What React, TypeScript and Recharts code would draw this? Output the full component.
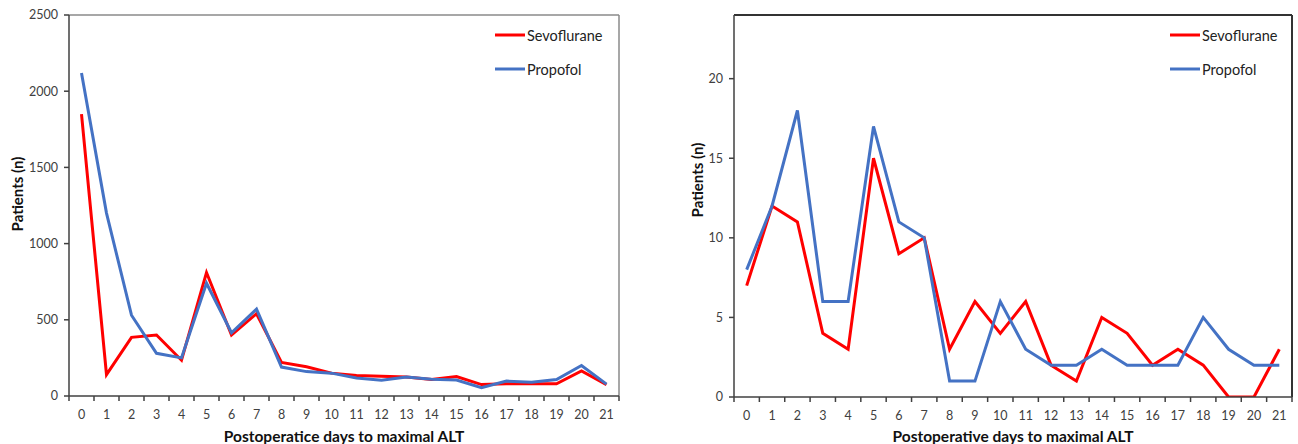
import { LineChart, Line, XAxis, YAxis, ReferenceLine, Legend } from "recharts";

// postoperative day of maximal ALT
const days = [0, 1, 2, 3, 4, 5, 6, 7, 8, 9, 10, 11, 12, 13, 14, 15, 16, 17, 18, 19, 20, 21];
const seriesOrder = ["Sevoflurane", "Propofol"];

// left panel: all patients
const sevoAll = [1850, 140, 385, 400, 235, 810, 400, 540, 220, 192, 150, 135, 130, 125, 108, 128, 75, 80, 80, 80, 165, 75];
const propAll = [2120, 1200, 530, 280, 250, 740, 415, 570, 190, 160, 150, 118, 103, 125, 110, 105, 55, 98, 90, 108, 200, 78];
const yTicksAll = [0, 500, 1000, 1500, 2000, 2500];

// right panel
const sevoLow = [7, 12, 11, 4, 3, 15, 9, 10, 3, 6, 4, 6, 2, 1, 5, 4, 2, 3, 2, 0, 0, 3];
const propLow = [8, 12, 18, 6, 6, 17, 11, 10, 1, 1, 6, 3, 2, 2, 3, 2, 2, 2, 5, 3, 2, 2];
const yTicksLow = [0, 5, 10, 15, 20];

const FONT = "Lato, 'Open Sans', sans-serif";
const AXIS = "#404040";

function LegendBox({ payload }: any) {
  const items = [...(payload || [])].sort(
    (a: any, b: any) => seriesOrder.indexOf(a.value) - seriesOrder.indexOf(b.value)
  );
  return (
    <div style={{ fontFamily: FONT, fontSize: 14.5, color: "#222" }}>
      {items.map((p: any) => (
        <div key={p.value} style={{ display: "flex", alignItems: "center", height: 34 }}>
          <svg width={30} height={4} style={{ marginRight: 2 }}>
            <line x1={0} y1={2} x2={30} y2={2} stroke={p.color} strokeWidth={3} />
          </svg>
          <span>{p.value}</span>
        </div>
      ))}
    </div>
  );
}

type PanelProps = {
  sevo: number[];
  prop: number[];
  yMax: number;
  yTicks: number[];
  width: number;
  yWidth: number;
  marginRight: number;
  axisHeight: number;
  xTitle: string;
  yLabelX: number;
  yLabelY: number;
  legendLeft: number;
  border: string;
  borderWidth: number;
};

function Panel(props: PanelProps) {
  const { sevo, prop, yMax, yTicks, width, yWidth, marginRight, axisHeight, xTitle, yLabelX, yLabelY, legendLeft, border, borderWidth } = props;
  const data = days.map((d, i) => ({ day: d, Sevoflurane: sevo[i], Propofol: prop[i] }));
  // tick marks sit between the days, labels in the middle of each day
  const bounds = [...days.map((d) => d - 0.5), days[days.length - 1] + 0.5];
  const last = days[days.length - 1] + 0.5;
  const half = (width - yWidth - marginRight) / days.length / 2;

  const DayTick = ({ x, y, payload }: any) => {
    if (payload.value >= last) return <g />;
    return (
      <text x={x + half} y={y} dy="0.71em" textAnchor="middle" style={{ fontFamily: FONT, fontSize: 12.5, fill: AXIS }}>
        {payload.value + 0.5}
      </text>
    );
  };

  return (
    <LineChart width={width} height={444} data={data} margin={{ top: 15, right: marginRight, left: 0, bottom: 0 }}>
      <XAxis
        type="number"
        dataKey="day"
        domain={[-0.5, last]}
        ticks={bounds}
        interval={0}
        tick={<DayTick />}
        tickSize={5}
        tickMargin={9}
        height={axisHeight}
        axisLine={{ stroke: AXIS, strokeWidth: 1.5 }}
        tickLine={{ stroke: AXIS, strokeWidth: 1.5 }}
        allowDataOverflow
        label={{
          value: xTitle,
          position: "insideBottom",
          offset: 2,
          style: { fontFamily: FONT, fontSize: 15.5, fontWeight: 700, fill: "#111" },
        }}
      />
      <YAxis
        domain={[0, yMax]}
        ticks={yTicks}
        interval={0}
        width={yWidth}
        tickSize={5}
        tickMargin={6}
        axisLine={{ stroke: AXIS, strokeWidth: 1.5 }}
        tickLine={{ stroke: AXIS, strokeWidth: 1.5 }}
        tick={{ fontFamily: FONT, fontSize: 12.5, fill: AXIS }}
        allowDataOverflow
        label={{
          content: () => (
            <text
              x={yLabelX}
              y={yLabelY}
              transform={`rotate(-90 ${yLabelX} ${yLabelY})`}
              textAnchor="middle"
              dominantBaseline="central"
              style={{ fontFamily: FONT, fontSize: 15, fontWeight: 700, fill: "#111" }}
            >
              Patients (n)
            </text>
          ),
        }}
      />
      <ReferenceLine y={yMax} stroke={border} strokeWidth={borderWidth} />
      <ReferenceLine x={last} stroke={border} strokeWidth={borderWidth} />
      <Legend
        content={<LegendBox />}
        layout="horizontal"
        verticalAlign="middle"
        align="center"
        wrapperStyle={{ top: 18, left: legendLeft, width: 130 }}
      />
      <Line type="linear" dataKey="Sevoflurane" stroke="#FF0000" strokeWidth={3} dot={false} isAnimationActive={false} />
      <Line type="linear" dataKey="Propofol" stroke="#4472C4" strokeWidth={3} dot={false} isAnimationActive={false} />
    </LineChart>
  );
}

export default function App() {
  return (
    <div style={{ position: "absolute", left: 0, top: 0, width: 1298, height: 444, background: "#fff", display: "flex" }}>
      <Panel
        sevo={sevoAll}
        prop={propAll}
        yMax={2500}
        yTicks={yTicksAll}
        width={640}
        yWidth={69}
        marginRight={21}
        axisHeight={48}
        xTitle="Postoperatice days to maximal ALT"
        yLabelX={17}
        yLabelY={194}
        legendLeft={495}
        border="#8a8a8a"
        borderWidth={1.5}
      />
      <Panel
        sevo={sevoLow}
        prop={propLow}
        yMax={24}
        yTicks={yTicksLow}
        width={658}
        yWidth={94}
        marginRight={6}
        axisHeight={47}
        xTitle="Postoperative days to maximal ALT"
        yLabelX={57}
        yLabelY={180}
        legendLeft={530}
        border="#333"
        borderWidth={2}
      />
    </div>
  );
}
